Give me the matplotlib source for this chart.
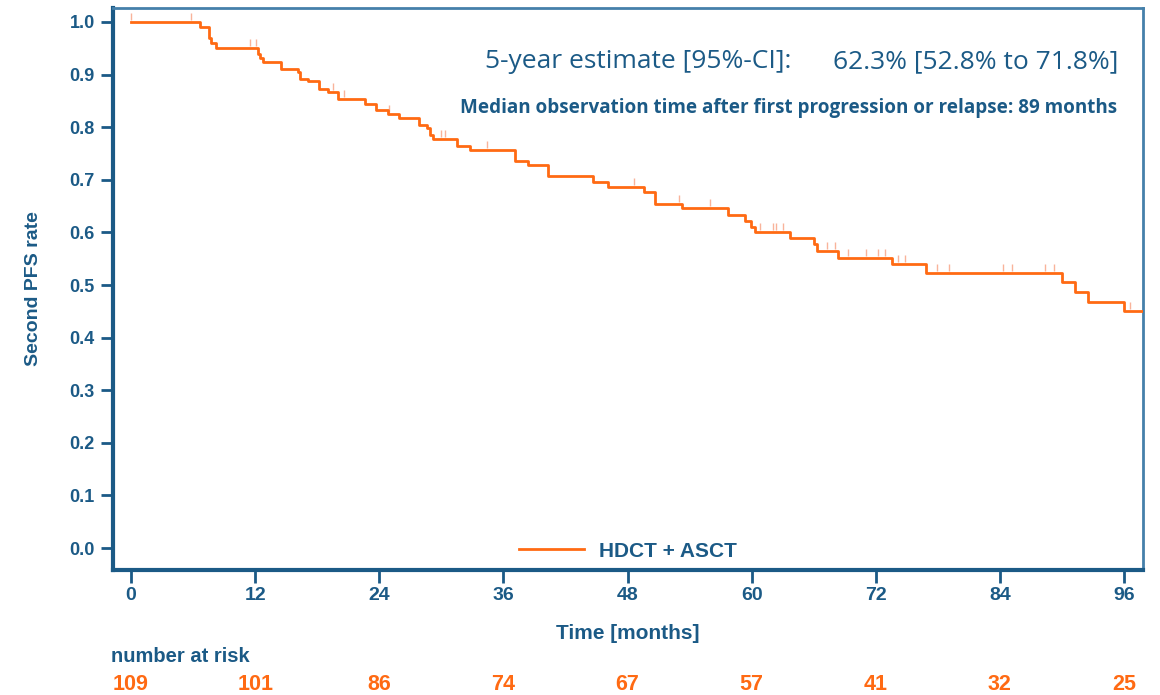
import matplotlib

matplotlib.use("Agg")
import matplotlib.pyplot as plt
import numpy as np

# Kaplan-Meier steps (months, survival after the drop)
STEP_T = [0, 6.7, 7.5, 7.7, 8.2, 12.3, 12.5, 12.8, 14.5, 16.1, 16.3, 17.1, 18.2, 19.0,
          20.0, 22.6, 23.7, 24.8, 25.9, 27.8, 28.6, 28.9, 29.2, 31.5, 32.8, 37.1, 38.4,
          40.3, 44.7, 46.1, 49.6, 50.7, 53.3, 57.7, 59.4, 59.9, 60.3, 63.7, 66.0, 66.3,
          68.3, 73.6, 76.9, 90.0, 91.3, 92.5, 96.0]
STEP_S = [1.0, 0.990, 0.970, 0.961, 0.950, 0.940, 0.932, 0.924, 0.911, 0.904, 0.891,
          0.887, 0.873, 0.866, 0.854, 0.845, 0.833, 0.825, 0.817, 0.805, 0.798, 0.786,
          0.777, 0.765, 0.757, 0.736, 0.729, 0.707, 0.695, 0.687, 0.676, 0.654, 0.646,
          0.634, 0.622, 0.610, 0.601, 0.589, 0.577, 0.565, 0.552, 0.540, 0.523, 0.505,
          0.486, 0.467, 0.450]
END_T = 98.0
CENSOR_T = [0, 5.8, 11.5, 12.1, 19.5, 20.6, 24.9, 30.0, 30.4, 34.4, 48.6, 53.0, 56.0,
            60.8, 62.1, 62.4, 63.0, 67.3, 68.1, 69.3, 71.1, 72.2, 72.9, 74.1, 74.8,
            77.9, 79.1, 84.3, 85.2, 88.4, 89.2, 96.6]
RISK_T = [0, 12, 24, 36, 48, 60, 72, 84, 96]
RISK_N = [109, 101, 86, 74, 67, 57, 41, 32, 25]

ORANGE = "#FF6A13"
CENS = "#F9B39A"
BLUE = "#1B5A86"
SANS = "Liberation Sans"

fig = plt.figure(figsize=(11.6, 6.95), dpi=100)
ax = fig.add_axes([113 / 1160, 1 - 570 / 695, 1030 / 1160, 562 / 695])

t = np.array(STEP_T + [END_T])
s = np.array(STEP_S + [STEP_S[-1]])
ax.step(t, s, where="post", color=ORANGE, lw=2, label="HDCT + ASCT", zorder=3)

ct = np.array(CENSOR_T)
cs = np.array(STEP_S)[np.searchsorted(STEP_T, ct, side="right") - 1]
ax.plot(ct, cs + 0.004, ls="none", marker=2, ms=5, mew=1.0, color=CENS, zorder=2)

ax.set_xlim(-1.74, 97.83)
ax.set_ylim(-0.0418, 1.0266)
ax.set_xticks(RISK_T)
ax.set_yticks(np.arange(0, 1.01, 0.1))
ax.yaxis.set_major_formatter(matplotlib.ticker.FormatStrFormatter("%.1f"))

for side in ["left", "bottom"]:
    ax.spines[side].set_linewidth(3)
    ax.spines[side].set_color(BLUE)
for side in ["top", "right"]:
    ax.spines[side].set_linewidth(2)
    ax.spines[side].set_color("#4580AA")
ax.tick_params(axis="both", direction="out", length=9, width=2, color=BLUE,
               labelcolor=BLUE)
ax.tick_params(axis="x", pad=3.5, labelsize=14)
ax.tick_params(axis="y", pad=4, labelsize=13)
for lab in ax.get_xticklabels() + ax.get_yticklabels():
    lab.set_fontfamily(SANS)
    lab.set_fontweight("bold")

ax.set_ylabel("Second PFS rate", color=BLUE, fontsize=14, fontweight="bold",
              fontfamily=SANS, labelpad=20)
ax.set_xlabel("Time [months]", color=BLUE, fontsize=15, fontweight="bold",
              fontfamily=SANS, labelpad=14)

ax.text(0.361, 0.904, "5-year estimate [95%-CI]:", transform=ax.transAxes,
        fontsize=19, color=BLUE, fontfamily="Open Sans", va="center", ha="left")
ax.text(0.9757, 0.904, "62.3% [52.8% to 71.8%]", transform=ax.transAxes,
        fontsize=19, color=BLUE, fontfamily="Open Sans", va="center", ha="right")
ax.text(0.975, 0.822, "Median observation time after first progression or relapse: 89 months",
        transform=ax.transAxes, fontsize=13.6, color=BLUE, fontfamily="Open Sans",
        fontweight="bold", va="center", ha="right")

leg = ax.legend(loc="lower center", frameon=False, handlelength=3.1, handletextpad=0.7,
                borderaxespad=0.05, prop={"family": SANS, "weight": "bold", "size": 15})
for txt in leg.get_texts():
    txt.set_color(BLUE)

# number at risk table
fig.text(111 / 1160, 1 - 657 / 695, "number at risk", color=BLUE, fontsize=14.5,
         fontweight="bold", fontfamily=SANS, va="center", ha="left")
for tm, n in zip(RISK_T, RISK_N):
    x_fig = fig.transFigure.inverted().transform(ax.transData.transform((tm, 0)))[0]
    fig.text(x_fig, 1 - 685 / 695, str(n), color=ORANGE, fontsize=15.5, fontweight="bold",
             fontfamily=SANS, va="center", ha="center")

fig.savefig("out.png", dpi=100, facecolor="white")
